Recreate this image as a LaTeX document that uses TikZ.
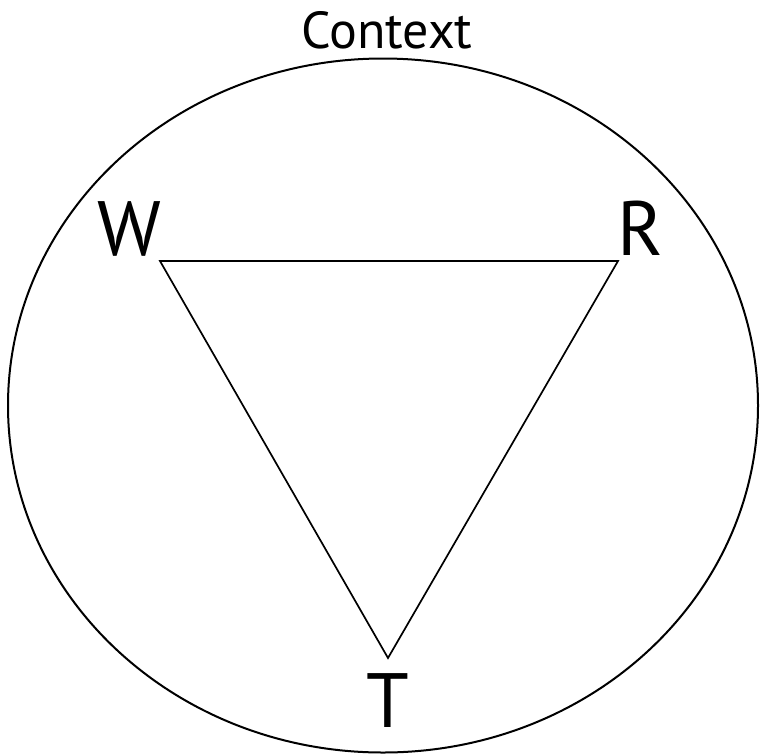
\documentclass[tikz,border=0pt]{standalone}
\usepackage{fontspec}
\setmainfont{PT Sans}
\usetikzlibrary{shapes.geometric}
\begin{document}
\begin{tikzpicture}[x=1pt,y=-1pt,
  lbl/.style={inner sep=0pt, font=\fontsize{77}{80}\selectfont},
  edge/.style={line width=1.7pt}]
\useasboundingbox (0,0) rectangle (760,753);
\node[ellipse, draw, line width=2pt, minimum width=750, minimum height=694, inner sep=0pt] (ctx) at (383,405.5) {};
\node[inner sep=0pt, anchor=base, font=\fontsize{52}{56}\selectfont] (ctxl) at (387,48) {Context};
\coordinate (w) at (160,261);
\coordinate (r) at (618,261);
\coordinate (t) at (388,658);
\node[lbl, anchor=base] (wl) at (129,255) {W};
\node[lbl, anchor=base] (rl) at (640,255) {R};
\node[lbl, anchor=base] (tl) at (388,727) {T};
\draw[edge, line join=miter] (w) -- (r) -- (t) -- cycle;
\end{tikzpicture}
\end{document}
